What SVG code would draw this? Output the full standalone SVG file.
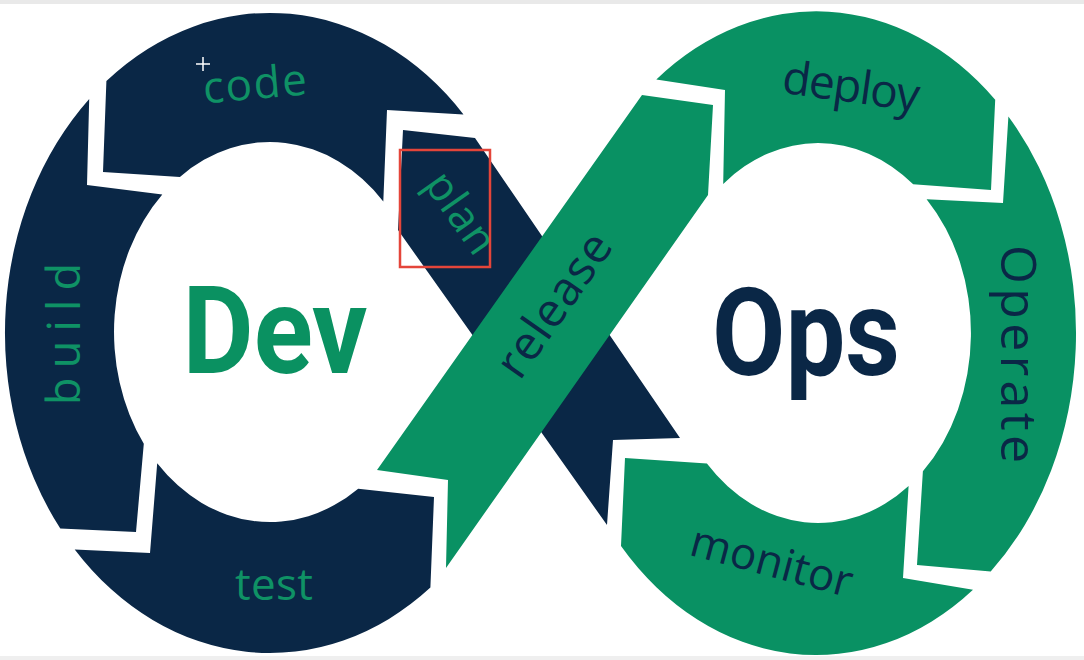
<svg xmlns="http://www.w3.org/2000/svg" width="1084" height="660" viewBox="0 0 1084 660">
<style>
.navy{fill:#0a2746}
.green{fill:#099163}
.lbl{font-family:"Open Sans","Noto Sans","DejaVu Sans",sans-serif;font-size:44px;text-anchor:middle}
.onNavy{fill:#0f9265}
.onGreen{fill:#0a2746}
.big{font-family:Roboto,"Open Sans","Liberation Sans",sans-serif;font-weight:bold;font-size:122px;text-anchor:middle}
</style>
<rect x="0" y="0" width="1084" height="660" fill="#ffffff"/>
<rect x="0" y="0" width="1084" height="4" fill="#e9e9e9"/>
<rect x="0" y="656" width="1084" height="4" fill="#efefef"/>

<g id="code">
<path class="navy" d="M106.4,81.1 A265,320 0 0 1 463.5,114.4 L387,110 L383.3,201.4 A156,190 0 0 0 179.9,176.9 L103,172 Z"/>
<text class="lbl onNavy" x="256" y="99" transform="rotate(-5 256 99)" textLength="104" lengthAdjust="spacing">code</text>
</g>
<g id="build">
<path class="navy" d="M89.2,98.9 A265,320 0 0 0 60.3,528.6 L136,532 L143.8,443.7 A156,190 0 0 1 162.3,194.6 L87,185 Z"/>
<text class="lbl onNavy" x="80" y="334" transform="rotate(-90 80 334)" style="font-size:45px" textLength="142" lengthAdjust="spacing">build</text>
</g>
<g id="test">
<path class="navy" d="M74.7,549.4 A265,320 0 0 0 430.4,587.6 L434,497 L358.2,488.7 A156,190 0 0 1 157.2,463.3 L150,553 Z"/>
<text class="lbl onNavy" x="274" y="600" textLength="78" lengthAdjust="spacing">test</text>
</g>
<g id="deploy">
<path class="green" d="M656.3,79.5 A260,322 0 0 1 995.2,99.7 L991,190 L913.2,184.3 A153,190 0 0 0 723.2,183.9 L725,90 Z"/>
<text class="lbl onGreen" x="849" y="102" transform="rotate(8 849 102)" style="font-size:46px" textLength="138" lengthAdjust="spacing">deploy</text>
</g>
<g id="operate">
<path class="green" d="M1008.4,116.4 A260,322 0 0 1 990.7,571.5 L917,565 L922.9,471.2 A153,190 0 0 0 926.6,199.2 L1003,203 Z"/>
<text class="lbl onGreen" x="1001" y="354" transform="rotate(90 1001 354)" style="font-size:50px" textLength="218" lengthAdjust="spacing">Operate</text>
</g>
<g id="monitor">
<path class="green" d="M973,589.7 A260,322 0 0 1 621,546 L625,458 L706.9,463.6 A153,190 0 0 0 908.6,486.1 L903,578 Z"/>
<text class="lbl onGreen" x="768" y="576" transform="rotate(15 768 576)" textLength="166" lengthAdjust="spacing">monitor</text>
</g>
<g id="plan">
<path class="navy" d="M403,130 L475,138 L680,438 L613,440 L607,525 L398,230 Z"/>
<text class="lbl onNavy" x="449" y="221" transform="rotate(55 449 221)" style="font-size:43px" textLength="90" lengthAdjust="spacing">plan</text>
</g>
<g id="release">
<path class="green" d="M642,95 L713,105 L708,195 L446,568 L448,480 L377,470 Z"/>
<text class="lbl onGreen" x="567" y="314" transform="rotate(-55 567 314)" style="font-size:47px" textLength="165" lengthAdjust="spacing">release</text>
</g>
<g id="dev">
<text class="big" x="275" y="373" fill="#0a9161" textLength="185" lengthAdjust="spacingAndGlyphs">Dev</text>
</g>
<g id="ops">
<text class="big" x="806" y="375" fill="#0a2746" textLength="188" lengthAdjust="spacingAndGlyphs">Ops</text>
</g>
<g id="annotation">
<rect x="400" y="150" width="90" height="117" fill="none" stroke="#e4453a" stroke-width="2.5"/>
<path d="M203,57 V71 M196,64 H210" stroke="#0a2746" stroke-width="4" fill="none"/>
<path d="M203,57 V71 M196,64 H210" stroke="#ffffff" stroke-width="1.5" fill="none"/>
</g>
</svg>
